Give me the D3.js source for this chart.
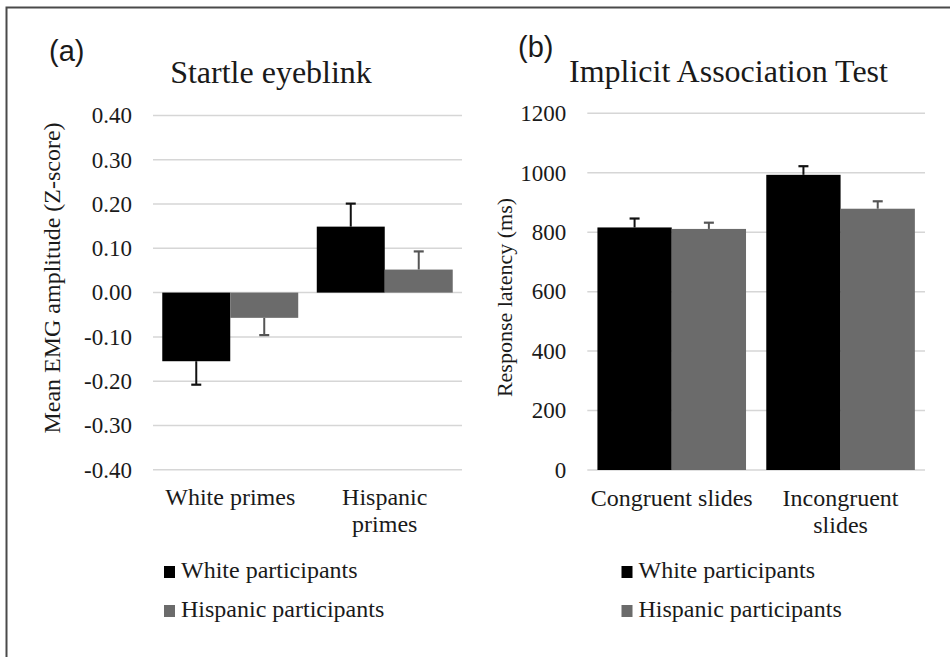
<!DOCTYPE html>
<html>
<head>
<meta charset="utf-8">
<script src="https://cdn.jsdelivr.net/npm/d3@7/dist/d3.min.js"></script>
<style>
  html, body { margin: 0; padding: 0; background: #fff; }
  svg { display: block; }
</style>
</head>
<body>
<svg id="chart" width="950" height="657"></svg>
<script>
// ---------- DATA ----------
const series = ["White participants", "Hispanic participants"];

// Panel (a): Startle eyeblink
const startleCategories = [["White primes"], ["Hispanic", "primes"]];
const startleWhite = [-0.155, 0.149];
const startleHispanic = [-0.057, 0.052];
const startleWhiteErr = [0.053, 0.052];
const startleHispanicErr = [0.039, 0.041];
const startleTicks = [-0.40, -0.30, -0.20, -0.10, 0.00, 0.10, 0.20, 0.30, 0.40];

// Panel (b): Implicit Association Test
const iatCategories = [["Congruent slides"], ["Incongruent", "slides"]];
const iatWhite = [816, 993];
const iatHispanic = [811, 879];
const iatWhiteErr = [30, 29];
const iatHispanicErr = [21, 25];
const iatTicks = [0, 200, 400, 600, 800, 1000, 1200];

// ---------- STYLE ----------
const SERIF = "'Liberation Serif', 'Times New Roman', Times, serif";
const SANS = "'Liberation Sans', Arial, Helvetica, sans-serif";
const TEXT_COLOR = "#1a1a1a";
const colors = ["#000000", "#6b6b6b"];
const errColors = ["#111111", "#555555"];
const svg = d3.select("#chart");

function serifText(sel, size) {
  return sel.attr("font-family", SERIF).style("font-family", SERIF)
    .attr("font-size", size).style("font-size", size + "px")
    .attr("fill", TEXT_COLOR);
}

// outer frame
svg.append("path")
  .attr("d", "M950,7.5H6.5V657")
  .attr("fill", "none").attr("stroke", "#4a4a4a").attr("stroke-width", 2);

function panel(cfg) {
  const g = svg.append("g");
  const y = d3.scaleLinear().domain(cfg.domain).range([cfg.yBottom, cfg.yTop]);
  const catIdx = cfg.categories.map((d, i) => i);
  const x0 = d3.scaleBand().domain(catIdx).range([cfg.xLeft, cfg.xRight])
    .paddingInner(0.12).paddingOuter(0.06);
  const x1 = d3.scaleBand().domain([0, 1]).range([0, x0.bandwidth()]);

  // gridlines
  g.append("g").selectAll("line").data(cfg.ticks).join("line")
    .attr("x1", cfg.xLeft).attr("x2", cfg.xRight)
    .attr("y1", d => y(d)).attr("y2", d => y(d))
    .attr("stroke", "#d6d6d6").attr("stroke-width", 1.5);

  // tick labels
  serifText(g.append("g").selectAll("text").data(cfg.ticks).join("text"), 23)
    .attr("x", cfg.xLeft - 21).attr("y", d => y(d)).attr("dy", "0.34em")
    .attr("text-anchor", "end")
    .text(d => cfg.fmt(d));

  const data = [];
  catIdx.forEach(ci => {
    data.push({ c: ci, s: 0, v: cfg.white[ci], e: cfg.whiteErr[ci] });
    data.push({ c: ci, s: 1, v: cfg.hisp[ci], e: cfg.hispErr[ci] });
  });

  // error bars
  const eb = g.append("g").selectAll("g").data(data).join("g");
  eb.append("line")
    .attr("x1", d => x0(d.c) + x1(d.s) + x1.bandwidth() / 2)
    .attr("x2", d => x0(d.c) + x1(d.s) + x1.bandwidth() / 2)
    .attr("y1", d => y(d.v))
    .attr("y2", d => y(d.v + Math.sign(d.v) * d.e))
    .attr("stroke", d => errColors[d.s]).attr("stroke-width", 2);
  eb.append("line")
    .attr("x1", d => x0(d.c) + x1(d.s) + x1.bandwidth() / 2 - 5)
    .attr("x2", d => x0(d.c) + x1(d.s) + x1.bandwidth() / 2 + 5)
    .attr("y1", d => y(d.v + Math.sign(d.v) * d.e))
    .attr("y2", d => y(d.v + Math.sign(d.v) * d.e))
    .attr("stroke", d => errColors[d.s]).attr("stroke-width", 2.2);

  // bars
  g.append("g").selectAll("rect").data(data).join("rect")
    .attr("x", d => x0(d.c) + x1(d.s))
    .attr("width", x1.bandwidth())
    .attr("y", d => Math.min(y(d.v), y(0)))
    .attr("height", d => Math.abs(y(d.v) - y(0)))
    .attr("fill", d => colors[d.s]);

  // category labels
  const cl = serifText(g.append("g").selectAll("text").data(cfg.categories).join("text"), 24)
    .attr("text-anchor", "middle")
    .attr("x", (d, i) => x0(i) + x0.bandwidth() / 2)
    .attr("y", cfg.catY);
  cl.selectAll("tspan").data(d => d).join("tspan")
    .attr("x", function () { return d3.select(this.parentNode).attr("x"); })
    .attr("dy", (d, i) => i === 0 ? 0 : 27)
    .text(d => d);

  // title
  serifText(g.append("text"), 32).attr("x", cfg.titleX).attr("y", cfg.titleY)
    .attr("text-anchor", "middle").text(cfg.title);

  // panel letter
  g.append("text").attr("x", cfg.letterX).attr("y", cfg.letterY)
    .attr("font-family", SANS).style("font-family", SANS)
    .attr("font-size", 29).attr("fill", TEXT_COLOR).text(cfg.letter);

  // y-axis title
  serifText(g.append("text"), cfg.yTitleSize)
    .attr("transform", `translate(${cfg.yTitleX},${cfg.yTitleY}) rotate(-90)`)
    .attr("text-anchor", "middle").attr("dy", "0.35em")
    .text(cfg.yTitle);

  // legend
  const lg = g.append("g").selectAll("g").data(series).join("g")
    .attr("transform", (d, i) => `translate(${cfg.legendX},${578 + i * 39})`);
  lg.append("rect").attr("x", 0).attr("y", -12).attr("width", 11).attr("height", 12)
    .attr("fill", (d, i) => colors[i]);
  serifText(lg.append("text"), 24).attr("x", 17).attr("y", 0).text(d => d);
}

panel({
  domain: [-0.4, 0.4], yTop: 115.5, yBottom: 469.7, xLeft: 153, xRight: 462,
  ticks: startleTicks, fmt: d => d3.format(".2f")(d).replace("\u2212", "-"),
  categories: startleCategories, white: startleWhite, hisp: startleHispanic,
  whiteErr: startleWhiteErr, hispErr: startleHispanicErr,
  catY: 505, title: "Startle eyeblink", titleX: 271, titleY: 82.5,
  letter: "(a)", letterX: 49, letterY: 61,
  yTitle: "Mean EMG amplitude (Z-score)", yTitleX: 52, yTitleY: 278, yTitleSize: 24,
  legendX: 164
});

panel({
  domain: [0, 1200], yTop: 113.3, yBottom: 470, xLeft: 587.3, xRight: 925,
  ticks: iatTicks, fmt: d => String(d),
  categories: iatCategories, white: iatWhite, hisp: iatHispanic,
  whiteErr: iatWhiteErr, hispErr: iatHispanicErr,
  catY: 506, title: "Implicit Association Test", titleX: 728.5, titleY: 81.5,
  letter: "(b)", letterX: 518, letterY: 56.5,
  yTitle: "Response latency (ms)", yTitleX: 504, yTitleY: 297.5, yTitleSize: 22,
  legendX: 621.5
});
</script>
</body>
</html>
